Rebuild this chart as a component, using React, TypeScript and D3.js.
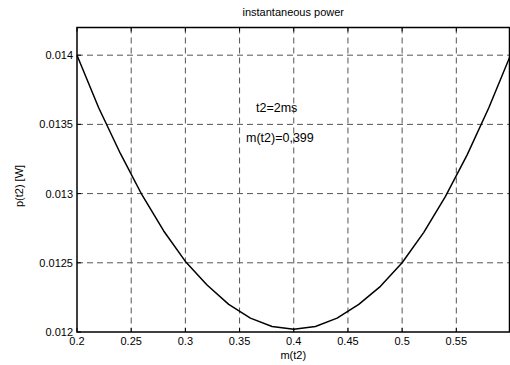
import React from "react";
import * as d3 from "d3";

const mValues = [0.2, 0.22, 0.24, 0.26, 0.28, 0.3, 0.32, 0.34, 0.36, 0.38, 0.4, 0.42, 0.44, 0.46, 0.48, 0.5, 0.52, 0.54, 0.56, 0.58, 0.6];
const pValues = [0.014, 0.01362, 0.01329, 0.01299, 0.01273, 0.01251, 0.01234, 0.0122, 0.0121, 0.01204, 0.01202, 0.01204, 0.0121, 0.0122, 0.01233, 0.0125, 0.01272, 0.01298, 0.01328, 0.01362, 0.014];
const xTicks = [0.2, 0.25, 0.3, 0.35, 0.4, 0.45, 0.5, 0.55];
const xGrid = [0.25, 0.3, 0.35, 0.4, 0.45, 0.5, 0.55];
const yTicks = [0.012, 0.0125, 0.013, 0.0135, 0.014];
const yGrid = [0.0125, 0.013, 0.0135, 0.014];
const titleText = "instantaneous power";
const xLabel = "m(t2)";
const yLabel = "p(t2) [W]";
const annotations = ["t2=2ms", "m(t2)=0,399"];

export default function App() {
  const W = 510, H = 365;
  const left = 77, right = 509.5, top = 27.5, bottom = 332;
  const x = d3.scaleLinear().domain([0.2, 0.6]).range([left, 510.5]);
  const y = d3.scaleLinear().domain([0.012, 0.0142]).range([bottom, top]);
  const line = d3.line<number>().x((_, i) => x(mValues[i])).y((d) => y(d));
  const font = "'Liberation Sans', Arial, sans-serif";
  const fmt = (v: number) => String(+v.toFixed(4));
  return (
    <svg width={W} height={H} style={{ position: "absolute", left: 0, top: 0, background: "#fff" }} fontFamily={font}>
      <rect x={0} y={0} width={W} height={H} fill="#fff" />
      {xGrid.map((v) => (
        <line key={"gx" + v} x1={x(v)} x2={x(v)} y1={top} y2={bottom} stroke="#555" strokeWidth={1} strokeDasharray="6,4" />
      ))}
      {yGrid.map((v) => (
        <line key={"gy" + v} x1={left} x2={right} y1={y(v)} y2={y(v)} stroke="#555" strokeWidth={1} strokeDasharray="6,4" />
      ))}
      <path d={line(pValues) || ""} fill="none" stroke="#000" strokeWidth={1.5} strokeLinejoin="round" />
      <rect x={left} y={top} width={right - left} height={bottom - top} fill="none" stroke="#000" strokeWidth={1.5} />
      {xTicks.map((v) => (
        <g key={"tx" + v}>
          <line x1={x(v)} x2={x(v)} y1={bottom} y2={bottom - 4} stroke="#000" />
          <line x1={x(v)} x2={x(v)} y1={top} y2={top + 4} stroke="#000" />
          <text x={x(v)} y={345} fontSize={11} textAnchor="middle">{fmt(v)}</text>
        </g>
      ))}
      {yTicks.map((v) => (
        <g key={"ty" + v}>
          <line x1={left} x2={left + 4} y1={y(v)} y2={y(v)} stroke="#000" />
          <text x={73} y={y(v) + 4} fontSize={11} textAnchor="end">{fmt(v)}</text>
        </g>
      ))}
      <text x={(left + right) / 2} y={16} fontSize={11} textAnchor="middle">{titleText}</text>
      <text x={(left + right) / 2} y={359} fontSize={11} textAnchor="middle">{xLabel}</text>
      <text transform={`translate(23,186) rotate(-90)`} fontSize={11} textAnchor="middle">{yLabel}</text>
      <text x={256} y={112} fontSize={12.5}>{annotations[0]}</text>
      <text x={246} y={142} fontSize={12.5}>{annotations[1]}</text>
    </svg>
  );
}
